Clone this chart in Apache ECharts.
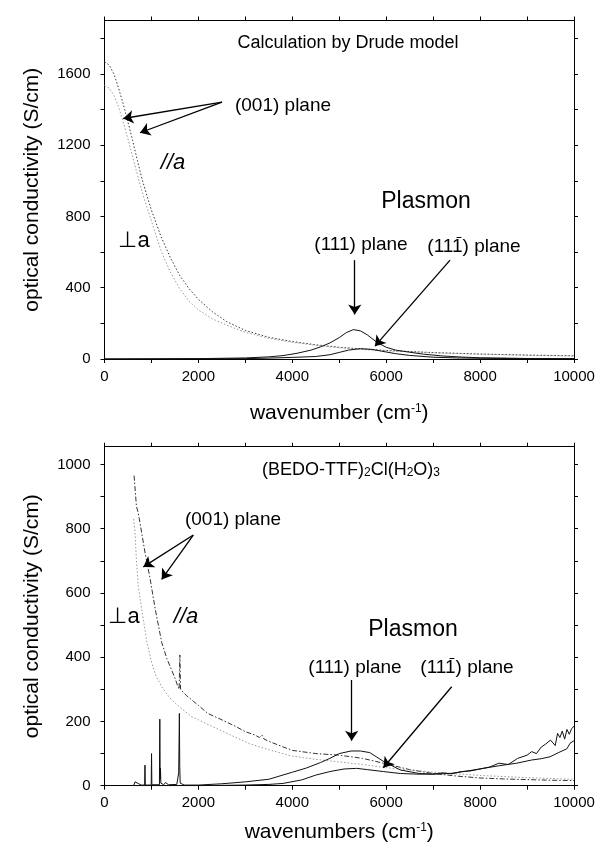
<!DOCTYPE html>
<html>
<head>
<meta charset="utf-8">
<title>optical conductivity</title>
<script src="https://cdn.jsdelivr.net/npm/echarts@6/dist/echarts.min.js"></script>
<style>
  html, body { margin: 0; padding: 0; background: #fff; }
  #chart { width: 601px; height: 847px; }
</style>
</head>
<body>
<div id="chart"></div>
<script>
//------------------------ data (top: Drude calculation) ------------------------
var topParaX = [0, 100, 200, 300, 400, 500, 600, 700, 800, 900, 1000, 1200, 1400, 1600, 1800, 2000, 2300, 2600, 3000, 3500, 4000, 4500, 5000, 5500, 6000, 7000, 8000, 9000, 10000];
var topParaY = [1668, 1650, 1600, 1520, 1430, 1330, 1225, 1115, 1010, 920, 835, 690, 570, 470, 395, 335, 265, 210, 160, 122, 98, 80, 66, 56, 48, 36, 28, 22, 18];

var topPerpX = [0, 100, 200, 300, 400, 500, 600, 700, 800, 900, 1000, 1200, 1400, 1600, 1800, 2000, 2300, 2600, 3000, 3500, 4000, 4500, 5000, 5500, 6000, 7000, 8000, 9000, 10000];
var topPerpY = [1535, 1520, 1480, 1415, 1330, 1235, 1135, 1035, 940, 855, 775, 610, 490, 395, 325, 275, 225, 190, 150, 116, 94, 77, 63, 53, 46, 35, 27, 21, 17];

var top111X = [0, 1000, 2000, 2500, 3000, 3500, 3800, 4100, 4400, 4600, 4800, 5000, 5150, 5300, 5450, 5600, 5800, 6000, 6200, 6500, 6800, 7200, 7600, 8000, 9000, 10000];
var top111Y = [0, 1, 2, 4, 6, 12, 19, 32, 50, 68, 90, 120, 148, 165, 158, 135, 94, 66, 50, 38, 27, 17, 11, 7, 3, 2];

var top11bX = [0, 2000, 3000, 3500, 4000, 4500, 4800, 5000, 5200, 5450, 5700, 5900, 6200, 6500, 7000, 7500, 8000, 9000, 10000];
var top11bY = [0, 1, 2, 5, 9, 14, 24, 37, 50, 58, 54, 44, 30, 20, 10, 6, 4, 2, 1];

//------------------------ data (bottom: (BEDO-TTF)2Cl(H2O)3) ------------------------
var botParaX = [630, 680, 720, 800, 870, 970, 1080, 1220, 1330, 1430, 1500, 1560, 1590, 1605, 1620, 1680, 1750, 1900, 2000, 2200, 2500, 2800, 3000, 3200, 3300, 3350, 3400, 3500, 3800, 4000, 4500, 5000, 5500, 6000, 6500, 7000, 7500, 8000, 8500, 9000, 9500, 10000];
var botParaY = [965, 870, 848, 780, 720, 645, 550, 445, 395, 360, 335, 310, 300, 407, 300, 290, 280, 262, 250, 225, 205, 184, 168, 158, 150, 158, 145, 138, 121, 110, 100, 95, 85, 68, 50, 38, 30, 24, 21, 19, 17, 16];

var botPerpX = [620, 650, 680, 720, 780, 830, 900, 1000, 1100, 1220, 1330, 1430, 1600, 1850, 2000, 2300, 2800, 3100, 3500, 4000, 4500, 5000, 5500, 6000, 7000, 8000, 9000, 10000];
var botPerpY = [830, 790, 700, 620, 560, 515, 450, 385, 340, 308, 285, 267, 245, 215, 205, 184, 150, 130, 112, 92, 82, 74, 66, 56, 42, 32, 25, 20];

var bot111X = [620, 650, 690, 730, 780, 855, 862, 869, 995, 1002, 1009, 1170, 1178, 1186, 1192, 1200, 1260, 1300, 1360, 1400, 1540, 1580, 1595, 1603, 1612, 1640, 1700, 2000, 2500, 3000, 3500, 4000, 4300, 4600, 4800, 5000, 5250, 5450, 5650, 5950, 6300, 6700, 7000, 7200, 7400, 7600, 7800, 8000, 8200, 8400, 8600, 8800, 9000, 9100, 9200, 9300, 9400, 9500, 9600, 9650, 9700, 9750, 9800, 9850, 9900, 9950, 10000];
var bot111Y = [0, 12, 16, 6, 2, 2, 64, 2, 2, 100, 3, 3, 207, 20, 55, 8, 3, 10, 3, 4, 4, 40, 225, 60, 8, 3, 2, 2, 6, 12, 20, 42, 55, 72, 85, 100, 108, 108, 103, 75, 49, 38, 36, 40, 37, 44, 46, 52, 58, 70, 66, 85, 95, 106, 100, 120, 130, 142, 125, 163, 150, 170, 145, 175, 160, 178, 185];

var bot11bX = [620, 2000, 3000, 3500, 3800, 4200, 4500, 4800, 5100, 5370, 5600, 5940, 6300, 6650, 7000, 7360, 7700, 8068, 8400, 8779, 9100, 9300, 9489, 9700, 9850, 9915, 10000];
var bot11bY = [0, 0, 2, 4, 7, 18, 33, 44, 52, 54, 50, 44, 38, 36, 36, 38, 45, 54, 62, 70, 80, 84, 90, 105, 115, 132, 140];

// tick positions
var xLabels = [0, 2000, 4000, 6000, 8000, 10000];
var xTicks = [0, 1000, 2000, 3000, 4000, 5000, 6000, 7000, 8000, 9000, 10000];
var topYLabels = [0, 400, 800, 1200, 1600];
var topYTicks = [0, 200, 400, 600, 800, 1000, 1200, 1400, 1600, 1800];
var botYLabels = [0, 200, 400, 600, 800, 1000];
var botYTicks = [0, 100, 200, 300, 400, 500, 600, 700, 800, 900, 1000];

function zip(xs, ys) {
    var out = [];
    for (var i = 0; i < xs.length; i++) out.push([xs[i], ys[i]]);
    return out;
}

//------------------------ echarts ------------------------
var FONT = '"Liberation Sans", Arial, sans-serif';
var mychart = echarts.init(document.getElementById('chart'), null, { renderer: 'canvas' });

var lineBlack = { color: '#000', width: 1 };
var plain = function (v) { return String(v); };

function xAxisMain(grid, name, gap) {
    return {
        type: 'value', gridIndex: grid, position: 'bottom', min: 0, max: 10000,
        name: name, nameLocation: 'middle', nameGap: gap,
        nameTextStyle: { fontFamily: FONT, fontSize: 21, color: '#000',
            rich: { sup: { fontFamily: FONT, fontSize: 12, color: '#000', verticalAlign: 'top' } } },
        axisLine: { show: true, onZero: false, lineStyle: lineBlack },
        axisTick: { show: true, inside: false, length: 4, customValues: xTicks, lineStyle: lineBlack },
        axisLabel: { show: true, customValues: xLabels, formatter: plain, margin: 10, fontFamily: FONT, fontSize: 15, color: '#000' },
        splitLine: { show: false }
    };
}
function xAxisTop(grid) {
    return {
        type: 'value', gridIndex: grid, position: 'top', min: 0, max: 10000,
        axisLine: { show: true, onZero: false, lineStyle: lineBlack },
        axisTick: { show: true, inside: false, length: 4, customValues: xTicks, lineStyle: lineBlack },
        axisLabel: { show: false },
        splitLine: { show: false }
    };
}
function yAxisMain(grid, max, labels, ticks) {
    return {
        type: 'value', gridIndex: grid, position: 'left', min: 0, max: max,
        name: 'optical conductivity (S/cm)', nameLocation: 'middle', nameGap: 62, nameRotate: 90,
        nameTextStyle: { fontFamily: FONT, fontSize: 21, color: '#000' },
        axisLine: { show: true, onZero: false, lineStyle: lineBlack },
        axisTick: { show: true, inside: false, length: 4, customValues: ticks, lineStyle: lineBlack },
        axisLabel: { show: true, customValues: labels, formatter: plain, margin: 14, fontFamily: FONT, fontSize: 15, color: '#000' },
        splitLine: { show: false }
    };
}
function yAxisRight(grid, max, ticks) {
    return {
        type: 'value', gridIndex: grid, position: 'right', min: 0, max: max,
        axisLine: { show: true, onZero: false, lineStyle: lineBlack },
        axisTick: { show: true, inside: false, length: 4, customValues: ticks, lineStyle: lineBlack },
        axisLabel: { show: false },
        splitLine: { show: false }
    };
}

function lineSeries(xi, yi, data, style) {
    return {
        type: 'line', xAxisIndex: xi, yAxisIndex: yi, data: data,
        symbol: 'none', showSymbol: false, smooth: false, silent: true,
        lineStyle: style, z: 3
    };
}

function arrows(list) {
    return {
        silent: true, animation: false,
        symbol: ['none', 'arrow'], symbolSize: 10,
        label: { show: false },
        itemStyle: { color: '#000' },
        lineStyle: { color: '#000', width: 1.3, type: 'solid' },
        data: list.map(function (a) {
            return [{ coord: [a[0], a[1]] }, { coord: [a[2], a[3]] }];
        })
    };
}

// arrows in data coordinates: [fromX, fromY, toX, toY]
var topArrows = [
    [2503, 1442, 400, 1350],
    [2503, 1442, 756, 1270],
    [5330, 555, 5330, 250],
    [7360, 555, 5760, 72]
];
var botArrows = [
    [1891, 780, 827, 681],
    [1891, 780, 1218, 642],
    [5265, 329, 5265, 140],
    [7395, 308, 5939, 56]
];

function txt(x, y, text, size, extra) {
    var style = { text: text, x: 0, y: 0, align: 'center', verticalAlign: 'middle',
        font: (extra && extra.italic ? 'italic ' : '') + size + 'px ' + FONT, fill: '#000' };
    if (extra && extra.rich) style.rich = extra.rich;
    return { type: 'text', x: x, y: y, silent: true, z: 10, style: style };
}

// "(111) plane" with a bar over the last index
var measureCtx = document.createElement('canvas').getContext('2d');
function barPlane(cx, cy, size) {
    measureCtx.font = size + 'px ' + FONT;
    var full = measureCtx.measureText('(111) plane').width;
    var pre = measureCtx.measureText('(11').width;
    var one = measureCtx.measureText('1').width;
    var left = cx - full / 2;
    var x0 = left + pre + one * 0.3;
    var x1 = left + pre + one * 0.75;
    var yb = cy - size * 0.5;
    return [
        txt(cx, cy, '(111) plane', size),
        { type: 'line', silent: true, z: 10,
          shape: { x1: x0, y1: yb, x2: x1, y2: yb },
          style: { stroke: '#000', lineWidth: 1 } }
    ];
}

var subRich = { s: { fontFamily: FONT, fontSize: 12, fill: '#000', color: '#000', verticalAlign: 'bottom' } };

var option = {
    animation: false,
    backgroundColor: '#fff',
    grid: [
        { left: 104.5, top: 20.5, width: 469.5, height: 338.5 },
        { left: 104.5, top: 446.7, width: 469.5, height: 339 }
    ],
    xAxis: [
        xAxisMain(0, 'wavenumber (cm{sup|-1})', 44),
        xAxisTop(0),
        xAxisMain(1, 'wavenumbers (cm{sup|-1})', 36),
        xAxisTop(1)
    ],
    yAxis: [
        yAxisMain(0, 1900, topYLabels, topYTicks),
        yAxisRight(0, 1900, topYTicks),
        yAxisMain(1, 1055, botYLabels, botYTicks),
        yAxisRight(1, 1055, botYTicks)
    ],
    series: [
        lineSeries(0, 0, zip(topParaX, topParaY), { color: '#3a3a3a', width: 1, type: [1.5, 2] }),
        lineSeries(0, 0, zip(topPerpX, topPerpY), { color: '#9a9a9a', width: 1, type: [1.5, 2] }),
        lineSeries(0, 0, zip(top11bX, top11bY), { color: '#111', width: 1 }),
        (function () {
            var s = lineSeries(0, 0, zip(top111X, top111Y), { color: '#111', width: 1 });
            s.markLine = arrows(topArrows);
            return s;
        })(),
        lineSeries(2, 2, zip(botParaX, botParaY), { color: '#333', width: 1, type: [5, 2, 1.5, 2] }),
        lineSeries(2, 2, zip(botPerpX, botPerpY), { color: '#9a9a9a', width: 1, type: [1.5, 2] }),
        lineSeries(2, 2, zip(bot11bX, bot11bY), { color: '#111', width: 1 }),
        (function () {
            var s = lineSeries(2, 2, zip(bot111X, bot111Y), { color: '#111', width: 1 });
            s.markLine = arrows(botArrows);
            return s;
        })()
    ],
    graphic: [
        txt(348, 43, 'Calculation by Drude model', 18),
        txt(283, 106, '(001) plane', 19),
        txt(173, 163, '//a', 22, { italic: true }),
        txt(134, 241, '\u22a5a', 22),
        txt(426, 202, 'Plasmon', 23),
        txt(361, 245, '(111) plane', 19),

        txt(351, 470, '(BEDO-TTF){s|2}Cl(H{s|2}O){s|3}', 18, { rich: subRich }),
        txt(233, 520, '(001) plane', 19),
        txt(124, 617, '\u22a5a', 22),
        txt(186, 617, '//a', 22, { italic: true }),
        txt(413, 630, 'Plasmon', 23),
        txt(355, 668, '(111) plane', 19)
    ].concat(barPlane(474, 247, 19), barPlane(467, 668, 19))
};
mychart.setOption(option);
//------------------------ echarts end ------------------------
</script>
</body>
</html>
